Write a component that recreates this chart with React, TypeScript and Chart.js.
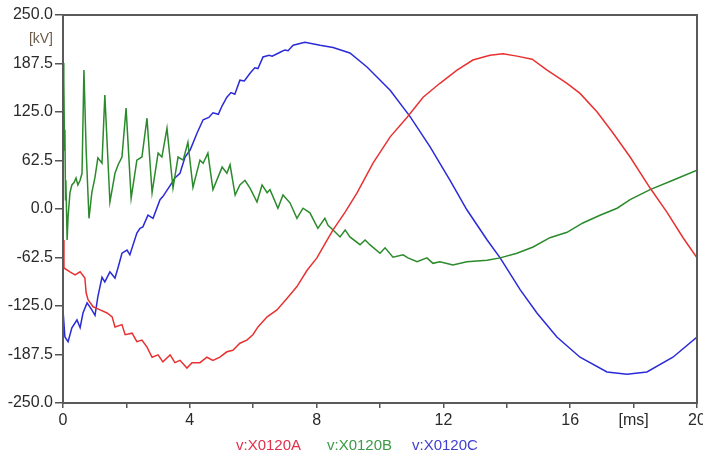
import { useEffect, useRef } from 'react';
import { Chart, registerables } from 'chart.js';
Chart.register(...registerables);

// Time axis [ms] and voltages [kV]
const timeA = [0, 0.03, 0.22, 0.38, 0.54, 0.69, 0.73, 0.79, 0.95, 1.17, 1.39, 1.55, 1.64, 1.86, 1.96, 2.18, 2.33, 2.49, 2.65, 2.81, 3.0, 3.15, 3.38, 3.53, 3.69, 3.91, 4.07, 4.32, 4.54, 4.73, 4.95, 5.17, 5.36, 5.58, 5.8, 5.99, 6.15, 6.44, 6.75, 7.07, 7.38, 7.7, 8.01, 8.33, 8.52, 8.9, 9.28, 9.78, 10.32, 10.85, 11.36, 11.89, 12.43, 12.93, 13.47, 13.88, 14.32, 14.8, 15.27, 15.9, 16.31, 16.85, 17.35, 17.89, 18.52, 19.05, 19.56, 20.0];
const voltA = [-40, -76, -81, -85, -81, -89, -108, -117, -126, -130, -134, -139, -152, -149, -162, -160, -171, -169, -178, -191, -188, -197, -188, -198, -195, -205, -198, -198, -191, -195, -191, -184, -182, -173, -169, -162, -152, -139, -130, -115, -100, -79, -63, -40, -27, -4, 21, 59, 93, 118, 144, 162, 179, 192, 198, 200, 197, 193, 179, 162, 149, 125, 98, 67, 27, -4, -37, -63];

const timeB = [0, 0.02, 0.03, 0.05, 0.06, 0.08, 0.09, 0.13, 0.16, 0.22, 0.28, 0.35, 0.41, 0.47, 0.54, 0.6, 0.66, 0.73, 0.82, 0.91, 1.01, 1.1, 1.23, 1.32, 1.48, 1.64, 1.74, 1.86, 1.99, 2.15, 2.33, 2.49, 2.65, 2.81, 3.0, 3.12, 3.28, 3.47, 3.63, 3.79, 3.94, 4.1, 4.32, 4.42, 4.57, 4.73, 5.02, 5.17, 5.27, 5.43, 5.58, 5.74, 5.9, 6.12, 6.28, 6.44, 6.53, 6.78, 6.94, 7.16, 7.38, 7.57, 7.79, 8.04, 8.26, 8.36, 8.52, 8.74, 8.9, 9.05, 9.37, 9.53, 9.68, 10.0, 10.16, 10.41, 10.73, 10.88, 11.17, 11.48, 11.67, 11.89, 12.3, 12.74, 13.38, 13.79, 14.32, 14.83, 15.36, 15.9, 16.4, 16.94, 17.48, 17.89, 18.52, 19.24, 20.0];
const voltB = [188, 140, 166, 76, 102, 12, 37, -40, -10, 21, 31, 34, 40, 31, 37, 46, 179, 76, -12, 21, 41, 66, 59, 147, 9, 46, 57, 67, 130, 14, 63, 67, 117, 21, 72, 67, 104, 27, 67, 63, 86, 28, 63, 59, 72, 25, 54, 46, 57, 18, 31, 37, 27, 9, 31, 21, 25, 1, 18, 8, -12, 1, -5, -25, -12, -21, -27, -36, -27, -36, -46, -40, -46, -57, -50, -62, -59, -63, -68, -63, -70, -68, -72, -68, -66, -63, -57, -49, -37, -30, -18, -8, 1, 12, 25, 37, 50];

const timeC = [0, 0.06, 0.16, 0.28, 0.44, 0.54, 0.63, 0.76, 0.91, 1.01, 1.1, 1.23, 1.32, 1.48, 1.64, 1.74, 1.86, 2.02, 2.11, 2.33, 2.43, 2.52, 2.68, 2.84, 3.06, 3.15, 3.44, 3.53, 3.69, 3.85, 4.01, 4.23, 4.42, 4.6, 4.73, 4.9, 5.02, 5.17, 5.3, 5.42, 5.58, 5.72, 5.9, 6.05, 6.15, 6.31, 6.5, 6.6, 6.85, 7.0, 7.1, 7.26, 7.63, 8.11, 8.52, 9.05, 9.59, 10.32, 10.95, 11.58, 12.21, 12.74, 13.38, 13.79, 14.42, 14.95, 15.58, 16.31, 17.16, 17.79, 18.42, 19.24, 20.0];
const voltC = [-130, -165, -171, -153, -143, -153, -134, -121, -130, -137, -113, -88, -94, -81, -89, -75, -57, -53, -59, -31, -25, -23, -8, -12, 12, 16, 34, 40, 46, 67, 76, 98, 115, 118, 124, 122, 133, 144, 150, 148, 166, 165, 175, 182, 181, 196, 198, 197, 202, 205, 204, 211, 215, 211, 208, 201, 183, 153, 119, 80, 37, -1, -40, -63, -104, -134, -165, -191, -210, -213, -210, -191, -165];

const seriesNames = ['v:X0120A', 'v:X0120B', 'v:X0120C'];
const yLabelValues = [250, 187.5, 125, 62.5, 0, -62.5, -125, -187.5, -250];
const xLabelValues = [0, 4, 8, 12, 16, 20];

export default function App() {
  const ref = useRef<HTMLCanvasElement>(null);
  useEffect(() => {
    const pts = (t: number[], v: number[]) => t.map((x, i) => ({ x, y: v[i] }));
    const frame = {
      id: 'frame',
      afterDraw(chart: any) {
        const { ctx, chartArea: a } = chart;
        ctx.save();
        ctx.strokeStyle = '#5a5a5a';
        ctx.lineWidth = 2;
        ctx.strokeRect(a.left, a.top, a.right - a.left, a.bottom - a.top);
        ctx.restore();
      },
    };
    const isMajorY = (v: number) => yLabelValues.includes(v);
    const chart = new Chart(ref.current as HTMLCanvasElement, {
      type: 'line',
      data: {
        datasets: [
          { label: seriesNames[0], data: pts(timeA, voltA), borderColor: '#e83232' },
          { label: seriesNames[1], data: pts(timeB, voltB), borderColor: '#2b8a2b' },
          { label: seriesNames[2], data: pts(timeC, voltC), borderColor: '#2a2ad8' },
        ],
      },
      options: {
        responsive: false,
        animation: false,
        devicePixelRatio: 1,
        layout: { padding: { left: 0, right: 6, top: 15, bottom: 0 }, autoPadding: false },
        plugins: { legend: { display: false }, tooltip: { enabled: false } },
        elements: { point: { radius: 0 }, line: { borderWidth: 1.5, tension: 0 } },
        scales: {
          x: {
            type: 'linear',
            min: 0,
            max: 20,
            border: { display: false },
            grid: { drawOnChartArea: false, drawTicks: true, tickLength: 5, color: '#555', lineWidth: 1.5 },
            ticks: {
              stepSize: 2,
              autoSkip: false,
              maxRotation: 0,
              padding: 3,
              color: '#2a2a2a',
              font: { family: 'Liberation Sans, Arial, sans-serif', size: 16 },
              callback: (v: any) => (xLabelValues.includes(v) ? String(v) : v === 18 ? '[ms]' : ''),
            },
            afterFit(s: any) {
              s.height = 52;
              s.paddingLeft = 0;
              s.paddingRight = 0;
            },
          },
          y: {
            type: 'linear',
            min: -250,
            max: 250,
            border: { display: false },
            grid: {
              drawOnChartArea: false,
              drawTicks: true,
              tickLength: 8,
              lineWidth: 1.5,
              color: (c: any) => (c.tick && isMajorY(c.tick.value) ? '#555' : 'rgba(0,0,0,0)'),
            },
            ticks: {
              stepSize: 31.25,
              autoSkip: false,
              padding: 2,
              color: (c: any) => (c.tick && c.tick.value === 218.75 ? '#6b5a4a' : '#2a2a2a'),
              font: (c: any) =>
                c.tick && c.tick.value === 218.75
                  ? { family: 'Liberation Sans, Arial, sans-serif', size: 14 }
                  : { family: 'Liberation Sans, Arial, sans-serif', size: 16 },
              callback: (v: any) => (v === 218.75 ? '[kV]' : isMajorY(v) ? Number(v).toFixed(1) : ''),
            },
            afterFit(s: any) {
              s.width = 63;
              s.paddingTop = 0;
              s.paddingBottom = 0;
            },
          },
        },
      },
      plugins: [frame],
    } as any);
    return () => chart.destroy();
  }, []);

  const legendStyle = (left: number, color: string): any => ({
    position: 'absolute',
    left,
    top: 436,
    fontFamily: 'Liberation Sans, Arial, sans-serif',
    fontSize: 15,
    color,
    whiteSpace: 'nowrap',
  });

  return (
    <div style={{ position: 'absolute', left: 0, top: 0, width: 703, height: 455, background: '#fff', overflow: 'hidden' }}>
      <canvas ref={ref} width={703} height={455} style={{ display: 'block' }} />
      <span style={legendStyle(236, '#e0304c')}>{seriesNames[0]}</span>
      <span style={legendStyle(327, '#3a9a45')}>{seriesNames[1]}</span>
      <span style={legendStyle(412, '#4040d0')}>{seriesNames[2]}</span>
    </div>
  );
}
